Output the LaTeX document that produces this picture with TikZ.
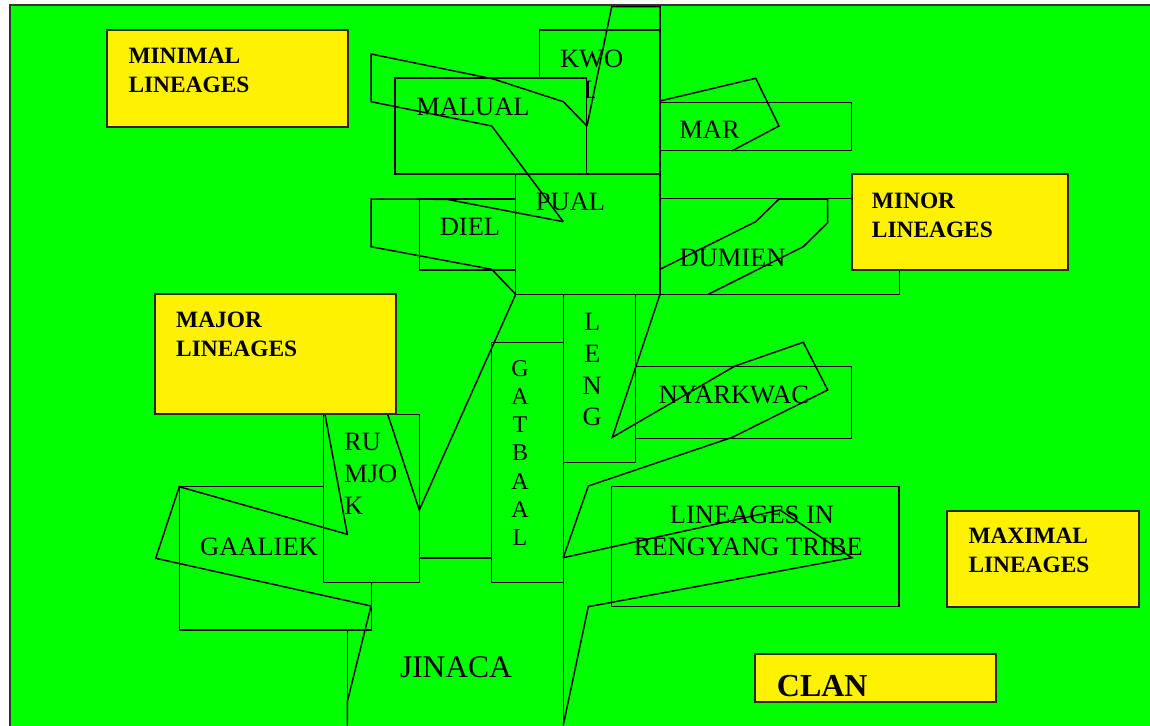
\documentclass[tikz,border=0pt]{standalone}
\usepackage{fontspec}
\setmainfont{Liberation Serif}

\tikzset{
  tribebox/.style={draw=black, line width=1.5pt, fill=green},
  rankbox/.style={draw=black!85, line width=1.7pt, fill=yellow},
  pointer/.style={draw=black, line width=1.5pt},
  lineagename/.style={font=\fontsize{26.5}{31.7}\selectfont, inner sep=0pt},
  rankname/.style={font=\bfseries\fontsize{23.4}{29}\selectfont, inner sep=0pt, align=left, anchor=north west}
}

\begin{document}
\begin{tikzpicture}[x=1pt, y=-1pt]
\useasboundingbox (0,0) rectangle (1150,725);

% the green field
\draw[line width=1.8pt, draw=black!80, fill=green] (10,5) rectangle (1165,740);

% lineage boxes, lowest first
\draw[tribebox] (347.3,558) rectangle (563.3,740);   % jinaca
\draw[tribebox] (179.3,486.7) rectangle (371.7,630); % gaaliek
\draw[tribebox] (323.3,414.3) rectangle (419.3,582.3); % rumjok
\draw[tribebox] (491.7,342.3) rectangle (563.3,582.3); % gatbaal
\draw[tribebox] (563.3,294.3) rectangle (635.7,462.3); % leng
\draw[tribebox] (635.7,366.7) rectangle (851.7,438.3); % nyarkwac
\draw[tribebox] (611.7,486.7) rectangle (899,606.7);   % rengyang
\draw[tribebox] (539.3,30) rectangle (660,174);        % kwol
\begin{scope}
  \clip (539.3,30) -- (660,30) -- (660,75) -- (594,75) -- (594,97) -- (539.3,97) -- cycle;
  \node[lineagename, align=center, anchor=north] (kwol) at (591.7,49.3) {KWO\\L};
\end{scope}
\draw[tribebox] (395,78) rectangle (586.5,174);        % malual
\draw[tribebox] (515.7,174) rectangle (660,294.3);     % pual
\draw[tribebox] (419.3,199) rectangle (515.7,270);     % diel
\draw[tribebox] (660,102.3) rectangle (851.7,150.7);   % mar
\draw[tribebox] (660,198.3) rectangle (899.3,294.3);   % dumien

% names
\node[lineagename, anchor=base] (malual) at (473,115) {MALUAL};
\node[lineagename, anchor=base] (mar) at (709.5,138.3) {MAR};
\node[lineagename, anchor=base] (pual) at (570.5,210.7) {PUAL};
\node[lineagename, anchor=base] (diel) at (470,235) {DIEL};
\node[lineagename, anchor=base] (dumien) at (732.5,266.7) {DUMIEN};
\node[lineagename, anchor=base] (nyarkwac) at (734,403.3) {NYARKWAC};
\node[lineagename, anchor=base] (rengyang) at (752,523.3) {LINEAGES IN};
\node[lineagename, anchor=base] (tribe) at (748.3,555) {RENGYANG TRIBE};
\node[lineagename, anchor=base] (gaaliek) at (259,555) {GAALIEK};
\node[lineagename, font=\fontsize{31.5}{36}\selectfont, anchor=base] (jinaca) at (456,677.3) {JINACA};
\node[lineagename, align=left, anchor=north west] (rumjok) at (344,433.3) {RU\\MJO\\K};
\node[lineagename, font=\fontsize{24}{28.3}\selectfont, align=center, anchor=north] (gatbaal) at (520,360) {G\\A\\T\\B\\A\\A\\L};
\node[lineagename, align=center, anchor=north] (leng) at (592.3,313.3) {L\\E\\N\\G};

% pointers
\draw[pointer] (587,126) -- (611.7,6.7) -- (660,6.7) -- (660,294.3); % trunk
\draw[pointer] (587,126) -- (563.3,101.7) -- (493.3,79) -- (371,54) -- (371,101.7) -- (491.7,126) -- (563.3,221.7);
\draw[pointer] (563.3,221.7) -- (446.7,199.3) -- (371,199) -- (371,246.7) -- (491.7,269.3) -- (515.7,294.3);
\draw[pointer] (660,101) -- (755.7,78.3) -- (779,126) -- (732.3,150.7);
\draw[pointer] (660,269.3) -- (755.7,221.7) -- (779,199) -- (827.7,199) -- (827.7,222.7) -- (803.3,246.7) -- (708.3,294.3);
\draw[pointer] (660,294.3) -- (612.3,437.3) -- (735,366) -- (803.3,342.3) -- (827.7,390) -- (732.3,437.3) -- (588.3,486) -- (563.3,557.7);
\draw[pointer] (563.3,557.7) -- (780,510) -- (851.7,557.7) -- (588.3,606.7) -- (563.3,725);
\draw[pointer] (515.7,294.3) -- (419.3,510) -- (387.7,414.3);
\draw[pointer] (325,414.3) -- (347.3,534.3) -- (179.3,486.7) -- (155.7,558.3) -- (371,606) -- (347.3,701.7) -- (347.3,725);

% lineage ranks
\draw[rankbox] (106.7,30) rectangle (347.7,126.7);
\node[rankname] (minimal) at (128.3,48.3) {MINIMAL\\LINEAGES};
\draw[rankbox] (851.7,174.3) rectangle (1067.7,270);
\node[rankname] (minor) at (871.7,193.3) {MINOR\\LINEAGES};
\draw[rankbox] (155,294.3) rectangle (395.7,414.3);
\node[rankname] (major) at (176,311.7) {MAJOR\\LINEAGES};
\draw[rankbox] (947.3,510.7) rectangle (1139.3,606.7);
\node[rankname] (maximal) at (968.3,528.3) {MAXIMAL\\LINEAGES};
\draw[rankbox] (755,654.3) rectangle (995.7,702.3);
\node[rankname, font=\bfseries\fontsize{32}{36}\selectfont] (clan) at (776.7,675) {CLAN};

\end{tikzpicture}
\end{document}
